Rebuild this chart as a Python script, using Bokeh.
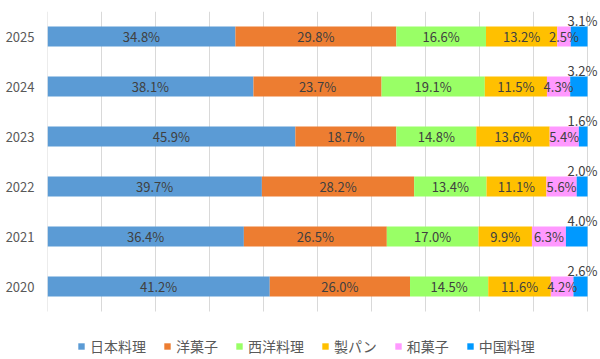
from bokeh.plotting import figure
from bokeh.models import (ColumnDataSource, Range1d, LabelSet, Legend, LegendItem, FixedTicker)
from bokeh.core.properties import value
from bokeh.embed import file_html
from bokeh.resources import INLINE

years = ["2020", "2021", "2022", "2023", "2024", "2025"]
categories = ["日本料理", "洋菓子", "西洋料理", "製パン", "和菓子", "中国料理"]
washoku = [41.2, 36.4, 39.7, 45.9, 38.1, 34.8]
yogashi = [26.0, 26.5, 28.2, 18.7, 23.7, 29.8]
seiyo = [14.5, 17.0, 13.4, 14.8, 19.1, 16.6]
seipan = [11.6, 9.9, 11.1, 13.6, 11.5, 13.2]
wagashi = [4.2, 6.3, 5.6, 5.4, 4.3, 2.5]
chuka = [2.6, 4.0, 2.0, 1.6, 3.2, 3.1]
grid_ticks = [0, 10, 20, 30, 40, 50, 60, 70, 80, 90, 100]
colors = ["#5B9BD5", "#ED7D31", "#99FF66", "#FFC000", "#FF99FF", "#0099FF"]

series = [washoku, yogashi, seiyo, seipan, wagashi, chuka]
keys = ["s%d" % i for i in range(len(series))]
FONT = "Noto Sans CJK JP"
ypos = list(range(len(years)))

# normalise to 100% (like a 100% stacked bar chart)
totals = [sum(s[i] for s in series) for i in range(len(years))]
data = {"y": ypos}
for k, s in zip(keys, series):
    data[k] = [v / t * 100 for v, t in zip(s, totals)]
src = ColumnDataSource(data)

W, H = 600, 359
LEFT, TOP = 47, 11
PLOT_W = 540          # pixels for 0..100 %
ROW = 50              # pixels per category row
x_end = 100.0 * (W - LEFT) / PLOT_W
y_start = -0.5 - (H - TOP - ROW * len(years)) / ROW

p = figure(width=W, height=H, x_range=Range1d(0, x_end),
           y_range=Range1d(y_start, len(years) - 0.5), x_axis_location=None,
           output_backend="svg", toolbar_location=None,
           min_border_left=LEFT, min_border_right=0, min_border_top=TOP, min_border_bottom=0)
p.outline_line_color = None
p.background_fill_color = "white"
p.xgrid.grid_line_color = None
p.ygrid.grid_line_color = None

# vertical gridlines limited to the category area
p.segment(x0=grid_ticks, x1=grid_ticks, y0=[-0.5] * len(grid_ticks),
          y1=[len(years) - 0.5] * len(grid_ticks), line_color="#D9D9D9", line_width=1)

renderers = p.hbar_stack(keys, y="y", height=0.4, color=colors, line_color=None, source=src)

ax = p.yaxis[0]
ax.ticker = FixedTicker(ticks=ypos)
ax.major_label_overrides = {i: y for i, y in zip(ypos, years)}
ax.axis_line_color = None
ax.major_tick_line_color = None
ax.minor_tick_line_color = None
ax.major_tick_out = 0
ax.major_tick_in = 0
ax.major_label_standoff = 13
ax.major_label_text_font = FONT
ax.major_label_text_font_size = "13px"
ax.major_label_text_color = "#595959"

# in-bar labels
lx, ly, lt = [], [], []
for i in ypos:
    cum = 0.0
    for j, k in enumerate(keys):
        v = data[k][i]
        if j < len(keys) - 1:
            lx.append(cum + v / 2)
            ly.append(i)
            lt.append("%.1f%%" % series[j][i])
        cum += v
lab_src = ColumnDataSource(dict(x=lx, y=ly, t=lt))
p.add_layout(LabelSet(x="x", y="y", text="t", source=lab_src, text_align="center",
                      text_baseline="middle", text_font=value(FONT), text_font_size="13px",
                      text_color="#404040"))

# 中国料理 labels above the bar end
c_src = ColumnDataSource(dict(x=[100.0] * len(years), y=ypos, t=["%.1f%%" % v for v in chuka]))
p.add_layout(LabelSet(x="x", y="y", text="t", source=c_src, text_align="center",
                      text_baseline="middle", x_offset=-5, y_offset=16,
                      text_font=value(FONT), text_font_size="13px", text_color="#404040"))

legend = Legend(items=[LegendItem(label=c, renderers=[r]) for c, r in zip(categories, renderers)],
                orientation="horizontal", location=(30, 3),
                glyph_width=8, glyph_height=8, label_standoff=5, spacing=17,
                label_height=16, padding=0, margin=0,
                label_text_font=FONT, label_text_font_size="14px", label_text_color="#595959",
                border_line_color=None, background_fill_alpha=0)
p.add_layout(legend)

open("out.html", "w").write(file_html(p, INLINE))
